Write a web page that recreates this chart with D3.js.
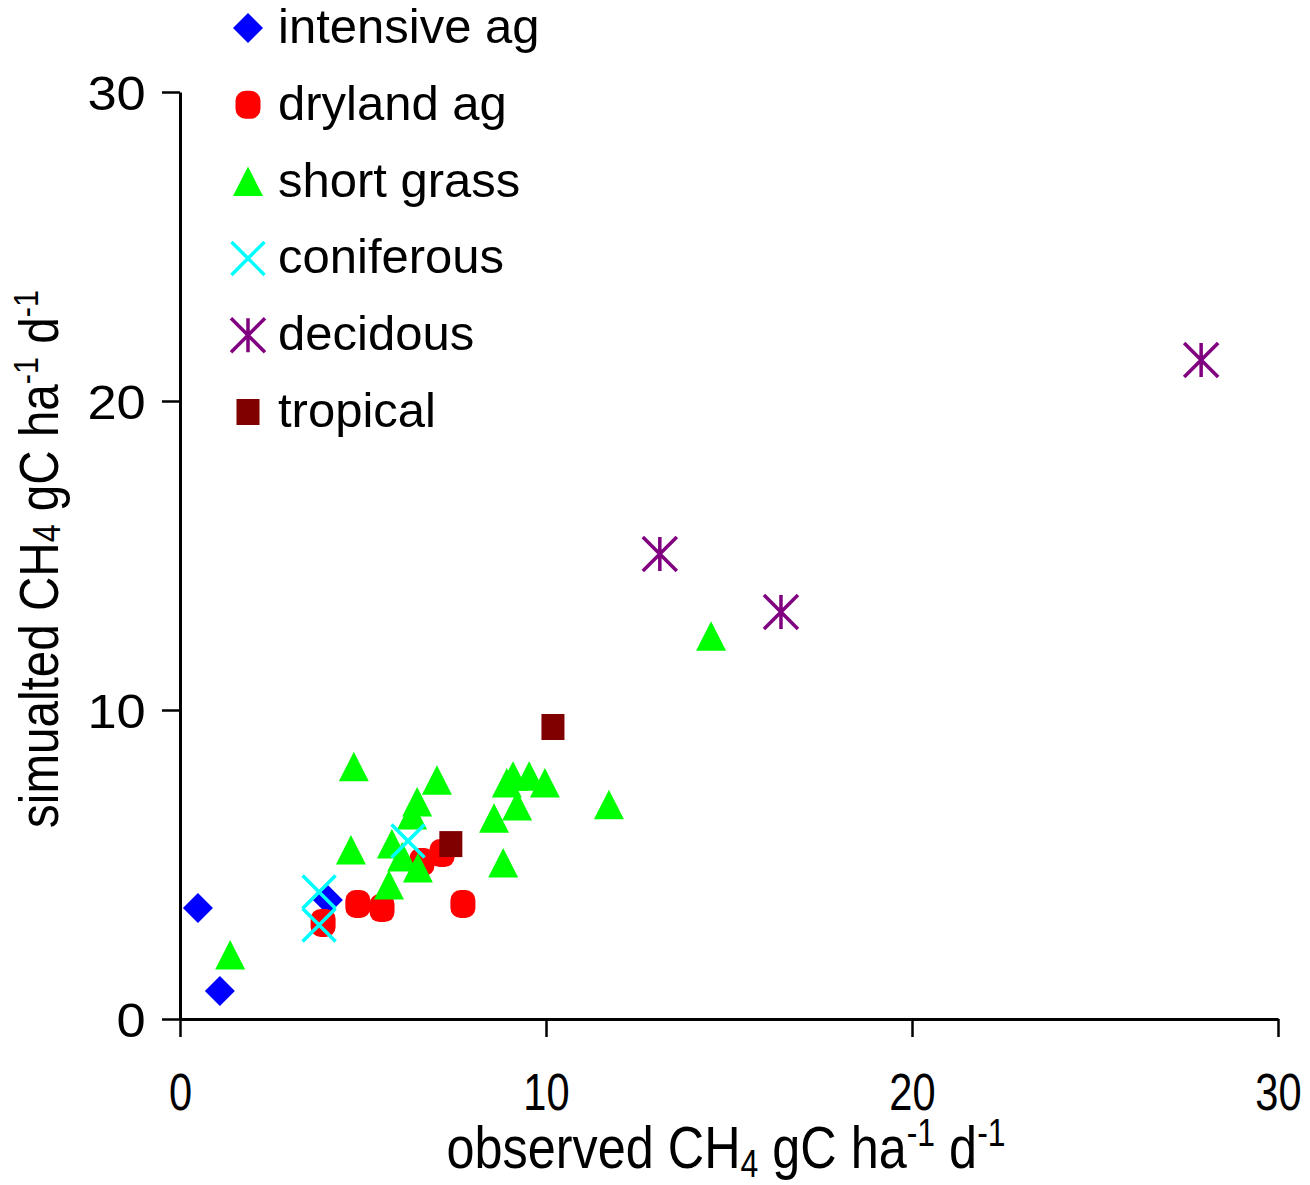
<!DOCTYPE html>
<html>
<head>
<meta charset="utf-8">
<script src="https://cdn.jsdelivr.net/npm/d3@7"></script>
<style>
  body { margin: 0; background: #fff; }
  svg text { font-family: "Liberation Sans", Arial, sans-serif; fill: #000; }
</style>
</head>
<body>
<div id="chart"></div>
<script>
// series names, in legend order
const categories = ['intensive ag', 'dryland ag', 'short grass', 'coniferous', 'decidous', 'tropical'];

// [observed, simulated] pairs
const intensiveAg = [[0.49, 3.59], [1.09, 0.91], [4.04, 3.85]];
const drylandAg = [[3.91, 3.11], [4.86, 3.72], [5.52, 3.59], [7.73, 3.72], [7.16, 5.37], [6.61, 5.08]];
const shortGrass = [
  [4.75, 8.16], [7.02, 7.73], [6.48, 7.02], [6.34, 6.6], [4.67, 5.47], [5.79, 5.66],
  [6.07, 5.24], [6.5, 4.89], [5.71, 4.34], [1.37, 2.07], [8.93, 7.64], [9.1, 7.86],
  [9.54, 7.86], [9.97, 7.64], [9.21, 6.89], [8.58, 6.5], [8.83, 5.05], [11.72, 6.93],
  [14.51, 12.39]
];
const coniferous = [[3.8, 4.11], [3.8, 3.04], [6.23, 5.76]];
const decidous = [[13.11, 15.05], [16.42, 13.17], [27.9, 21.33]];
const tropical = [[7.4, 5.66], [10.19, 9.45]];

const tickValues = [0, 10, 20, 30];

const seriesData = [intensiveAg, drylandAg, shortGrass, coniferous, decidous, tropical];
const colors = ['#0000ff', '#ff0000', '#00ff00', '#00ffff', '#800080', '#800000'];

const width = 1310, height = 1185;
const svg = d3.select('#chart').append('svg')
  .attr('width', width)
  .attr('height', height);

const x = d3.scaleLinear().domain([0, 30]).range([180, 1278]);
const y = d3.scaleLinear().domain([0, 30]).range([1019, 92]);

// marker drawing, one function per series
function drawMarker(g, i, color) {
  if (i === 0) {
    g.append('path').attr('d', 'M0,-15L15,0L0,15L-15,0Z').attr('fill', color);
  } else if (i === 1) {
    g.append('rect').attr('x', -12.5).attr('y', -14).attr('width', 25).attr('height', 28)
      .attr('rx', 10).attr('fill', color);
  } else if (i === 2) {
    g.append('path').attr('d', 'M0,-15L15,14.5L-15,14.5Z').attr('fill', color);
  } else if (i === 3) {
    g.append('path').attr('d', 'M-16.5,-16.5L16.5,16.5M16.5,-16.5L-16.5,16.5')
      .attr('stroke', color).attr('stroke-width', 3.5).attr('fill', 'none');
  } else if (i === 4) {
    g.append('path').attr('d', 'M-17,-17L17,17M17,-17L-17,17M0,-17L0,17')
      .attr('stroke', color).attr('stroke-width', 3.5).attr('fill', 'none');
  } else {
    g.append('rect').attr('x', -11.5).attr('y', -13).attr('width', 23).attr('height', 26)
      .attr('fill', color);
  }
}

// axes
const xAxis = svg.append('g')
  .attr('transform', 'translate(0,1019)')
  .call(d3.axisBottom(x).tickValues(tickValues).tickSize(18).tickSizeOuter(0));
xAxis.select('.domain').attr('stroke', '#000').attr('stroke-width', 3);
xAxis.selectAll('.tick line').attr('stroke', '#000').attr('stroke-width', 2.5);
xAxis.selectAll('.tick text')
  .attr('y', 91).attr('dy', 0)
  .attr('font-size', 52)
  .attr('transform', 'scale(0.8,1)');

const yAxis = svg.append('g')
  .attr('transform', 'translate(180,0)')
  .call(d3.axisLeft(y).tickValues(tickValues).tickSize(18).tickSizeOuter(0));
yAxis.select('.domain').attr('stroke', '#000').attr('stroke-width', 3);
yAxis.selectAll('.tick line').attr('stroke', '#000').attr('stroke-width', 2.5);
yAxis.selectAll('.tick text')
  .attr('x', -32).attr('dy', '0.36em')
  .attr('font-size', 49)
  .attr('transform', 'scale(1.07,1)');
svg.selectAll('.tick text').attr('fill', '#000').attr('font-family', '"Liberation Sans", Arial, sans-serif');

// points
seriesData.forEach((data, i) => {
  svg.append('g').selectAll('g')
    .data(data)
    .join('g')
    .attr('transform', d => `translate(${x(d[0])},${y(d[1])})`)
    .each(function () { drawMarker(d3.select(this), i, colors[i]); });
});

// legend
const legend = svg.append('g');
categories.forEach((name, i) => {
  const cy = 28 + i * 76.8;
  const g = legend.append('g').attr('transform', `translate(248,${cy})`);
  drawMarker(g, i, colors[i]);
  legend.append('text')
    .attr('x', 278).attr('y', cy + 15)
    .attr('font-size', 49)
    .text(name);
});

// axis titles
const xTitle = svg.append('text')
  .attr('transform', 'translate(726,1168) scale(0.84,1)')
  .attr('text-anchor', 'middle')
  .attr('font-size', 60);
xTitle.append('tspan').text('observed CH');
xTitle.append('tspan').attr('font-size', 38).attr('dy', 9).text('4');
xTitle.append('tspan').attr('dy', -9).text(' gC ha');
xTitle.append('tspan').attr('font-size', 38).attr('dy', -22).text('-1');
xTitle.append('tspan').attr('dy', 22).text(' d');
xTitle.append('tspan').attr('font-size', 38).attr('dy', -22).text('-1');

const yTitle = svg.append('text')
  .attr('transform', 'translate(58,559) rotate(-90) scale(0.85,1)')
  .attr('text-anchor', 'middle')
  .attr('font-size', 56);
yTitle.append('tspan').text('simualted CH');
yTitle.append('tspan').attr('font-size', 38).attr('dy', 2).text('4');
yTitle.append('tspan').attr('dy', -2).text(' gC ha');
yTitle.append('tspan').attr('font-size', 36).attr('dy', -20).text('-1');
yTitle.append('tspan').attr('dy', 20).text(' d');
yTitle.append('tspan').attr('font-size', 36).attr('dy', -20).text('-1');
</script>
</body>
</html>
